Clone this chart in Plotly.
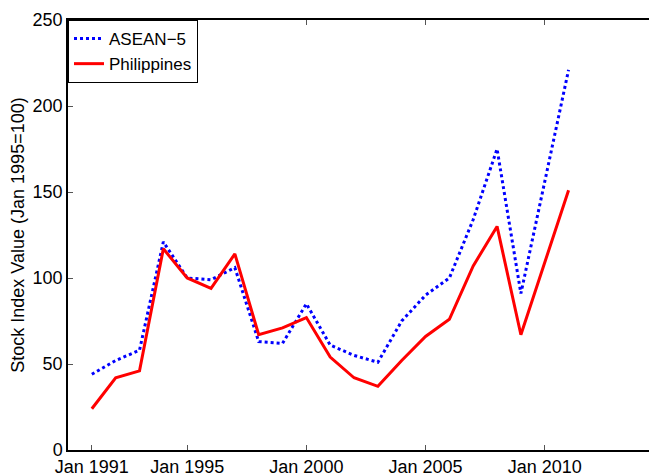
import plotly.graph_objects as go

# yearly observations (January of each year), 2010 not in the series
years = [1991, 1992, 1993, 1994, 1995, 1996, 1997, 1998, 1999, 2000,
         2001, 2002, 2003, 2004, 2005, 2006, 2007, 2008, 2009, 2011]
asean5 = [44, 52, 58, 121, 100, 99, 106, 63, 62, 85,
          61, 55, 51, 75, 90, 100, 134, 175, 91, 221]
philippines = [24, 42, 46, 117, 100, 94, 114, 67, 71, 77,
               54, 42, 37, 52, 66, 76, 107, 130, 67, 151]

tick_years = [1991, 1995, 2000, 2005, 2010]
tick_labels = ['Jan 1991', 'Jan 1995', 'Jan 2000', 'Jan 2005', 'Jan 2010']
y_ticks = [0, 50, 100, 150, 200, 250]

font = 'Liberation Sans, Arial, Helvetica, sans-serif'

fig = go.Figure()
fig.add_trace(go.Scatter(x=years, y=asean5, mode='lines', name='ASEAN\u22125',
                         line=dict(color='rgb(0,0,255)', width=3, dash='dot')))
fig.add_trace(go.Scatter(x=years, y=philippines, mode='lines', name='Philippines',
                         line=dict(color='rgb(255,0,0)', width=3)))

# page body has an 8px margin, so the figure is a bit smaller than the window
fig.update_layout(
    width=649, height=467,
    margin=dict(l=60, r=0, t=12, b=25),
    paper_bgcolor='white', plot_bgcolor='white',
    font=dict(family=font, size=18, color='black'),
    showlegend=True,
    legend=dict(x=0, y=1, xanchor='left', yanchor='top',
                bordercolor='black', borderwidth=1, bgcolor='white',
                font=dict(size=17), tracegroupgap=0, itemwidth=30),
    xaxis=dict(range=[1990, 2014.71], tickvals=tick_years, ticktext=tick_labels,
               showgrid=False, zeroline=False, showline=True, linecolor='black',
               linewidth=1.5, mirror='allticks', ticks='inside', ticklen=5,
               tickcolor='#555', tickfont=dict(size=18), automargin=False),
    yaxis=dict(range=[0, 250], tickvals=y_ticks, showgrid=False, zeroline=False,
               showline=True, linecolor='black', linewidth=1.5, ticks='inside',
               ticklen=5, tickcolor='#555', tickfont=dict(size=18), automargin=False,
               title=dict(text='Stock Index Value (Jan 1995=100)', standoff=5,
                          font=dict(size=18))),
)

fig.write_html('out.html')
